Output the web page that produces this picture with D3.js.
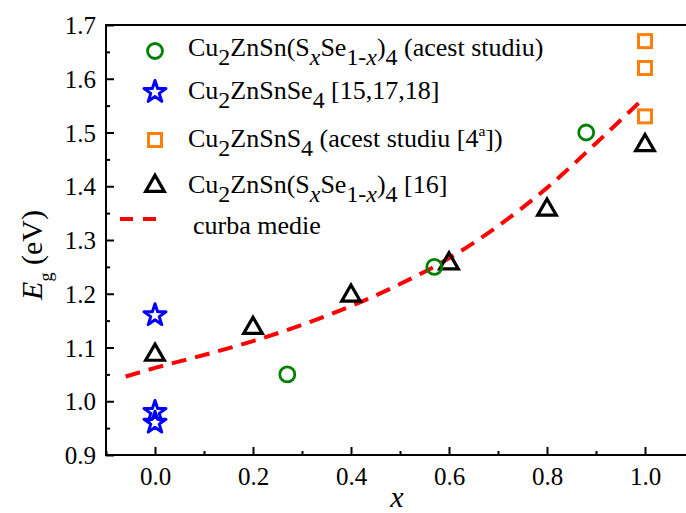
<!DOCTYPE html>
<html>
<head>
<meta charset="utf-8">
<script src="https://cdn.jsdelivr.net/npm/d3@7"></script>
<style>
  body { margin: 0; background: #fff; }
</style>
</head>
<body>
<div id="chart"></div>
<script>
var FONT = "'Liberation Serif'"

// data
var circleX = [0.27, 0.57, 0.88]
var circleY = [1.05, 1.25, 1.50]

var starX = [0, 0, 0]
var starY = [1.16, 0.98, 0.96]

var squareX = [1.0, 1.0, 1.0]
var squareY = [1.67, 1.62, 1.53]

var triX = [0, 0.2, 0.4, 0.6, 0.8, 1.0]
var triY = [1.09, 1.14, 1.20, 1.26, 1.36, 1.48]

// average curve ("curba medie")
var curveX = [-0.06, 0, 0.1, 0.2, 0.3, 0.4, 0.5, 0.6, 0.7, 0.8, 0.9, 1.0]
var curveY = [1.046, 1.062, 1.086, 1.112, 1.142, 1.177, 1.218, 1.266, 1.326, 1.397, 1.480, 1.566]

var xTicks = [0, 0.2, 0.4, 0.6, 0.8, 1.0]
var yTicks = [0.9, 1.0, 1.1, 1.2, 1.3, 1.4, 1.5, 1.6, 1.7]

var W = 686, H = 513
var margin = {top: 25, left: 106, right: -8, bottom: 58}

var svg = d3.select("#chart").append("svg")
  .attr("width", W)
  .attr("height", H)
  .style("font-family", FONT)

var x = d3.scaleLinear().domain([-0.1, 1.1]).range([margin.left, W - margin.right])
var y = d3.scaleLinear().domain([0.9, 1.7]).range([H - margin.bottom, margin.top])

// axes, ticks inward
var xMajor = d3.axisBottom(x).tickValues(xTicks).tickSize(-8).tickPadding(12).tickFormat(d3.format(".1f"))
var xMinor = d3.axisBottom(x).tickValues([-0.1, 0.1, 0.3, 0.5, 0.7, 0.9]).tickSize(-4).tickFormat("")
var yMajor = d3.axisLeft(y).tickValues(yTicks).tickSize(-8).tickPadding(10).tickFormat(d3.format(".1f"))
var yMinor = d3.axisLeft(y).tickValues([0.95, 1.05, 1.15, 1.25, 1.35, 1.45, 1.55, 1.65]).tickSize(-4).tickFormat("")

function styleAxis(g) {
  g.attr("font-family", null)
  g.selectAll(".domain").remove()
  g.selectAll("line").attr("stroke", "#000").attr("stroke-width", 2)
  g.selectAll("text").style("font-size", "25px").style("font-family", FONT).attr("fill", "#000")
}

var gx = svg.append("g").attr("transform", "translate(0," + y(0.9) + ")")
gx.call(xMajor).call(styleAxis)
gx.append("g").call(xMinor).call(styleAxis)

var gy = svg.append("g").attr("transform", "translate(" + x(-0.1) + ",0)")
gy.call(yMajor).call(styleAxis)
gy.append("g").call(yMinor).call(styleAxis)
gy.selectAll(".tick text").attr("dy", "0.34em")

// frame
svg.append("rect")
  .attr("x", x(-0.1))
  .attr("y", y(1.7))
  .attr("width", x(1.1) - x(-0.1))
  .attr("height", y(0.9) - y(1.7))
  .attr("fill", "none")
  .attr("stroke", "#000")
  .attr("stroke-width", 2)

// curve
var line = d3.line()
  .x(function(d) { return x(d[0]) })
  .y(function(d) { return y(d[1]) })
  .curve(d3.curveMonotoneX)

svg.append("path")
  .datum(d3.zip(curveX, curveY))
  .attr("d", line)
  .attr("fill", "none")
  .attr("stroke", "#ff0000")
  .attr("stroke-width", 4)
  .attr("stroke-dasharray", "15,9")

// marker helpers
var starPath = d3.symbol().type(d3.symbolStar).size(150)
var triPath = d3.symbol().type(d3.symbolTriangle).size(150)

function drawCircles(g, xs, ys) {
  g.selectAll("circle.c").data(d3.zip(xs, ys)).enter().append("circle")
    .attr("cx", function(d) { return x(d[0]) })
    .attr("cy", function(d) { return y(d[1]) })
    .attr("r", 7.5)
    .attr("fill", "none").attr("stroke", "#008000").attr("stroke-width", 2.8)
}
function drawStars(g, xs, ys) {
  g.selectAll("path.s").data(d3.zip(xs, ys)).enter().append("path")
    .attr("d", starPath)
    .attr("transform", function(d) { return "translate(" + x(d[0]) + "," + y(d[1]) + ")" })
    .attr("fill", "none").attr("stroke", "#0000ff").attr("stroke-width", 3).attr("stroke-linejoin", "round")
}
function drawSquares(g, xs, ys) {
  g.selectAll("rect.q").data(d3.zip(xs, ys)).enter().append("rect")
    .attr("x", function(d) { return x(d[0]) - 6.5 })
    .attr("y", function(d) { return y(d[1]) - 6.5 })
    .attr("width", 13).attr("height", 13)
    .attr("fill", "none").attr("stroke", "#ff7f0e").attr("stroke-width", 3)
}
function drawTris(g, xs, ys) {
  g.selectAll("path.t").data(d3.zip(xs, ys)).enter().append("path")
    .attr("d", triPath)
    .attr("transform", function(d) { return "translate(" + x(d[0]) + "," + (y(d[1]) + 2) + ")" })
    .attr("fill", "none").attr("stroke", "#000").attr("stroke-width", 3.2).attr("stroke-linejoin", "miter")
}

var pts = svg.append("g")
drawTris(pts.append("g"), triX, triY)
drawCircles(pts.append("g"), circleX, circleY)
drawStars(pts.append("g"), starX, starY)
drawSquares(pts.append("g"), squareX, squareY)

// rich text: segments [text, kind]  kind: n normal, sub, isub (italic sub), it, sup
function richText(g, px, py, segs, size) {
  var t = g.append("text").attr("x", px).attr("y", py)
    .style("font-size", size + "px").style("font-family", FONT)
  var shift = 0
  segs.forEach(function(s) {
    var target = 0, fs = size, fst = "normal"
    if (s[1] == "sub" || s[1] == "isub") { target = size * 0.33; fs = size * 0.92 }
    if (s[1] == "sup") { target = -size * 0.42; fs = size * 0.6 }
    if (s[1] == "it" || s[1] == "isub") fst = "italic"
    t.append("tspan")
      .attr("dy", target - shift)
      .style("font-size", fs + "px")
      .style("font-style", fst)
      .style("font-family", FONT)
      .text(s[0])
    shift = target
  })
  return t
}

// legend
var leg = svg.append("g")
var lx = 155, tx = 188
var rows = [
  {ty: 56, draw: function(g) { g.append("circle").attr("cx", lx).attr("cy", 51).attr("r", 7.5).attr("fill", "none").attr("stroke", "#008000").attr("stroke-width", 2.8) },
   text: [["Cu", "n"], ["2", "sub"], ["ZnSn(S", "n"], ["x", "isub"], ["Se", "n"], ["1-", "sub"], ["x", "isub"], [")", "n"], ["4", "sub"], [" (acest studiu)", "n"]]},
  {ty: 99, draw: function(g) { g.append("path").attr("d", starPath).attr("transform", "translate(" + lx + ",92)").attr("fill", "none").attr("stroke", "#0000ff").attr("stroke-width", 3).attr("stroke-linejoin", "round") },
   text: [["Cu", "n"], ["2", "sub"], ["ZnSnSe", "n"], ["4", "sub"], [" [15,17,18]", "n"]]},
  {ty: 147, draw: function(g) { g.append("rect").attr("x", lx - 6.5).attr("y", 133.5).attr("width", 13).attr("height", 13).attr("fill", "none").attr("stroke", "#ff7f0e").attr("stroke-width", 3) },
   text: [["Cu", "n"], ["2", "sub"], ["ZnSnS", "n"], ["4", "sub"], [" (acest studiu [4", "n"], ["a", "sup"], ["])", "n"]]},
  {ty: 193, draw: function(g) { g.append("path").attr("d", triPath).attr("transform", "translate(" + lx + ",186)").attr("fill", "none").attr("stroke", "#000").attr("stroke-width", 3.2) },
   text: [["Cu", "n"], ["2", "sub"], ["ZnSn(S", "n"], ["x", "isub"], ["Se", "n"], ["1-", "sub"], ["x", "isub"], [")", "n"], ["4", "sub"], [" [16]", "n"]]},
  {ty: 234, draw: function(g) { g.append("line").attr("x1", 120).attr("x2", 160).attr("y1", 219).attr("y2", 219).attr("stroke", "#ff0000").attr("stroke-width", 4).attr("stroke-dasharray", "13,10") },
   text: [["curba medie", "n"]], tx: 193}
]
rows.forEach(function(r) {
  r.draw(leg)
  richText(leg, r.tx || tx, r.ty, r.text, 26)
})

// axis titles
richText(svg, 397, 507, [["x", "it"]], 30).attr("text-anchor", "middle")

var yl = svg.append("g").attr("transform", "translate(42,255) rotate(-90)")
richText(yl, 0, 0, [["E", "it"], ["g", "sub"], [" (eV)", "n"]], 30).attr("text-anchor", "middle")
yl.select("text").selectAll("tspan").filter(function(d, i) { return i == 1 }).style("font-size", "18px")
</script>
</body>
</html>
